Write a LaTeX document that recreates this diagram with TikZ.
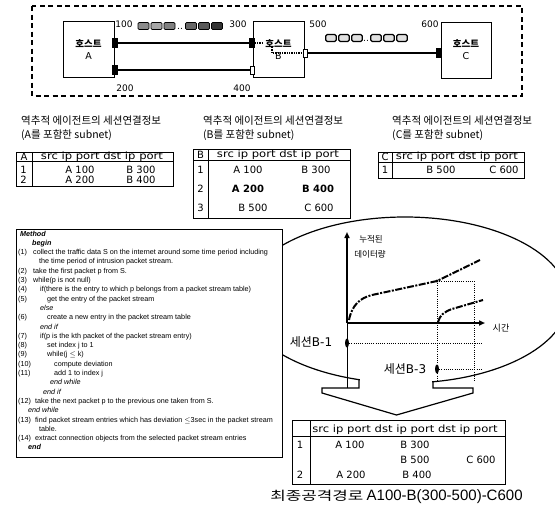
\documentclass[tikz,border=0pt]{standalone}
\usepackage{fontspec}
\usepackage{graphicx}
\setmainfont{DejaVu Sans}
\newfontfamily\kr{Noto Sans CJK KR}
\newfontfamily\codefont{Liberation Sans}
\usetikzlibrary{arrows.meta,shapes.geometric}
\newcommand\cln[5]{\node[code] (#1n) at (18,#2) {#3};\node[code] (#1) at (#4,#2) {#5};}
\newcommand\clx[4]{\node[code] (#1) at (#3,#2) {#4};}
\newcommand\hdr[1]{\scalebox{1.16}[1]{#1}}
\begin{document}
\begin{tikzpicture}[x=1pt,y=-1pt,
  host/.style={draw,line width=0.9pt,minimum width=51pt,minimum height=56pt,inner sep=0,align=center,font=\fontsize{9.5}{12}\selectfont},
  portb/.style={draw,fill=black,minimum width=5pt,minimum height=9pt,inner sep=0},
  portw/.style={draw,fill=white,line width=0.9pt,minimum width=4pt,minimum height=8pt,inner sep=0},
  link/.style={line width=2.2pt},
  num/.style={inner sep=0,font=\fontsize{9}{10}\selectfont},
  pkt/.style={draw,line width=0.7pt,rounded corners=1.2pt,minimum width=11pt,minimum height=7pt,inner sep=0},
  wpkt/.style={draw,line width=1.4pt,rounded corners=1.5pt,fill=black!12,minimum width=10.5pt,minimum height=7pt,inner sep=0},
  pdots/.style={inner sep=0,font=\fontsize{9}{9}\selectfont},
  tbl/.style={line width=0.9pt},
  cell/.style={inner sep=0,font=\fontsize{10}{11}\selectfont},
  ttl/.style={inner sep=0,anchor=base west,font=\kr\fontsize{10.5}{12}\selectfont},
  code/.style={inner sep=0,anchor=base west,font=\codefont\fontsize{7.2}{8}\selectfont},
  bdot/.style={line width=2pt,dash pattern=on 1.3pt off 1pt},
  dotln/.style={line width=0.7pt,dash pattern=on 1pt off 1.2pt},
  axis/.style={line width=1.8pt,-{Triangle[length=6pt,width=5pt]}},
  curve/.style={line width=2pt,dash pattern=on 7pt off 1.5pt on 2pt off 1.5pt},
  marker/.style={ellipse,fill=black,minimum width=4pt,minimum height=9pt,inner sep=0},
  lab/.style={inner sep=0,font=\fontsize{12}{13}\selectfont},
]
\useasboundingbox (0,0) rectangle (555,509);

% ---------- network ----------
\draw[line width=1.5pt,dash pattern=on 5pt off 3.5pt] (32,6) rectangle (522,96);
\node[host] (A) at (88.5,49.5) {{\kr\bfseries 호스트}\\A};
\node[host] (B) at (278.5,49.5) {{\kr\bfseries 호스트}\\B};
\node[host,minimum width=50pt] (C) at (466,50) {{\kr\bfseries 호스트}\\C};

\node[portb] (pa1) at (115,43) {};
\node[portb] (pa2) at (115,70) {};
\node[portb] (pb1) at (252,43) {};
\node[portw] (pb2) at (252,70) {};
\node[portw] (pb3) at (305,53) {};
\node[portb] (pc1) at (439,53) {};

\draw[link] (pa1) -- (pb1);
\draw[link] (pa2) -- (pb2);
\draw[link] (pb3) -- (pc1);
\coordinate (bd1) at (263,43);
\coordinate (bd2) at (272,47);
\coordinate (bd3) at (272,53);
\draw[bdot] (pb1) -- (bd1);
\draw[bdot] (bd2) -- (bd3) -- (pb3);

\node[num] (l100) at (124,24) {100};
\node[num] (l300) at (238,24) {300};
\node[num] (l500) at (318,24) {500};
\node[num] (l600) at (430,24) {600};
\node[num] (l200) at (125,88) {200};
\node[num] (l400) at (242,88) {400};

\node[pkt,fill=black!45] (k1) at (143.5,26) {};
\node[pkt,fill=black!35] (k2) at (156.5,26) {};
\node[pkt,fill=black!50] (k3) at (169.5,26) {};
\node[pdots] (kd) at (180,28.5) {..};
\node[pkt,fill=black!60] (k4) at (191,26) {};
\node[pkt,fill=black!65] (k5) at (204,26) {};
\node[pkt,fill=black!80] (k6) at (217,26) {};

\node[wpkt] (m1) at (331,38) {};
\node[wpkt] (m2) at (344,38) {};
\node[wpkt] (m3) at (357,38) {};
\node[pdots] (md) at (366,40.5) {..};
\node[wpkt] (m4) at (376,38) {};
\node[wpkt] (m5) at (389,38) {};
\node[wpkt] (m6) at (402,38) {};

% ---------- titles ----------
\node[ttl] (t1a) at (21,124) {역추적 에이전트의 세션연결정보};
\node[ttl] (t1b) at (21,138) {(A를 포함한 subnet)};
\node[ttl] (t2a) at (203,124) {역추적 에이전트의 세션연결정보};
\node[ttl] (t2b) at (203,138) {(B를 포함한 subnet)};
\node[ttl] (t3a) at (392,124) {역추적 에이전트의 세션연결정보};
\node[ttl] (t3b) at (392,138) {(C를 포함한 subnet)};

% ---------- table A ----------
\draw[tbl] (16,152) rectangle (173,186);
\draw[tbl] (16,161) -- (173,161);
\draw[tbl] (32,152) -- (32,186);
\node[cell] (ah) at (24,157) {A};
\node[cell] (ahh) at (102,157) {\hdr{src ip port dst ip port}};
\node[cell] (a1) at (23.5,170) {1};
\node[cell] (a2) at (23.5,180) {2};
\node[cell] (a11) at (80,170) {A 100};
\node[cell] (a12) at (141,170) {B 300};
\node[cell] (a21) at (80,180) {A 200};
\node[cell] (a22) at (141,180) {B 400};

% ---------- table B ----------
\draw[tbl] (193,149) rectangle (350,218);
\draw[tbl] (193,160) -- (350,160);
\draw[tbl] (208,149) -- (208,218);
\node[cell] (bh) at (200.5,155) {B};
\node[cell] (bhh) at (278,155) {\hdr{src ip port dst ip port}};
\node[cell] (b1) at (200.5,170) {1};
\node[cell] (b2) at (200.5,189) {2};
\node[cell] (b3) at (200.5,208) {3};
\node[cell] (b11) at (248,170) {A 100};
\node[cell] (b12) at (316,170) {B 300};
\node[cell] (b21) at (248,189) {\bfseries A 200};
\node[cell] (b22) at (318,189) {\bfseries B 400};
\node[cell] (b31) at (253,208) {B 500};
\node[cell] (b32) at (319,208) {C 600};

% ---------- table C ----------
\draw[tbl] (378,152) rectangle (524,178);
\draw[tbl] (378,162) -- (524,162);
\draw[tbl] (392,152) -- (392,178);
\node[cell] (ch) at (385,157) {C};
\node[cell] (chh) at (457,157) {\hdr{src ip port dst ip port}};
\node[cell] (c1r) at (385,170) {1};
\node[cell] (cc1) at (441,170) {B 500};
\node[cell] (cc2) at (504,170) {C 600};

% ---------- ellipse + arrow ----------
\draw[line width=1.2pt] (405,300) ellipse [x radius=163pt, y radius=83pt];
\fill[white] (359.6,370) rectangle (432.4,392);
\coordinate (s1) at (359,380);
\coordinate (s2) at (359,388);
\coordinate (s3) at (322,388);
\coordinate (s4) at (322,393);
\coordinate (ap) at (396.5,415);
\coordinate (s5) at (473,393);
\coordinate (s6) at (473,388);
\coordinate (s7) at (433,388);
\coordinate (s8) at (433,381);
\draw[line width=1.2pt,line join=miter] (s1) -- (s2) -- (s3) -- (s4) -- (ap) -- (s5) -- (s6) -- (s7) -- (s8);

% ---------- pseudocode box ----------
\draw[line width=1pt,fill=white] (16,229) rectangle (282,457);
\clx{cm}{236}{20}{\bfseries\itshape Method}
\clx{cb}{245.3}{32}{\bfseries\itshape begin}
\cln{c1}{254.6}{(1)}{33}{collect the traffic data S on the internet around some time period including}
\clx{c1b}{263.9}{39}{the time period of intrusion packet stream.}
\cln{c2}{273.2}{(2)}{33}{take the first packet p from S.}
\cln{c3}{282.5}{(3)}{33}{while(p is not null)}
\cln{c4}{291.8}{(4)}{40}{if(there is the entry to which p belongs from a packet stream table)}
\cln{c5}{301.1}{(5)}{47}{get the entry of the packet stream}
\clx{ce1}{310.4}{40}{\itshape else}
\cln{c6}{319.7}{(6)}{47}{create a new entry in the packet stream table}
\clx{ce2}{329}{40}{\itshape end if}
\cln{c7}{338.3}{(7)}{40}{if(p is the kth packet of the packet stream entry)}
\cln{c8}{347.6}{(8)}{47}{set index j to 1}
\cln{c9}{356.9}{(9)}{47}{while(j $\leq$ k)}
\cln{c10}{366.2}{(10)}{54}{compute deviation}
\cln{c11}{375.5}{(11)}{54}{add 1 to index j}
\clx{ce3}{384.8}{50}{\itshape end while}
\clx{ce4}{394.1}{43}{\itshape end if}
\cln{c12}{403.4}{(12)}{35}{take the next packet p to the previous one taken from S.}
\clx{ce5}{412.7}{28}{\itshape end while}
\cln{c13}{422}{(13)}{35}{find packet stream entries which has deviation $\leq$3sec in the packet stream}
\clx{c13b}{431.3}{39}{table.}
\cln{c14}{440.6}{(14)}{35}{extract connection objects from the selected packet stream entries}
\clx{cend}{449.9}{28}{\bfseries\itshape end}

% ---------- graph ----------
\coordinate (O) at (347,323);
\coordinate (Ytop) at (347,232);
\coordinate (Xend) at (485,323);
\coordinate (Ybot) at (347,388);
\draw[axis] (O) -- (Ytop);
\draw[axis] (O) -- (Xend);
\draw[line width=0.6pt] (O) -- (Ybot);
\node[inner sep=0,font=\kr\fontsize{8.5}{9}\selectfont] (yl1) at (371,239) {누적된};
\node[inner sep=0,font=\kr\fontsize{8.5}{9}\selectfont] (yl2) at (370,254) {데이터량};
\node[inner sep=0,font=\kr\fontsize{9}{9}\selectfont] (xl) at (501,328) {시간};

\coordinate (k0) at (437,281);
\coordinate (kr) at (474,281);
\coordinate (krb) at (474,382);
\coordinate (kb) at (437,382);
\draw[dotln] (k0) -- (kb);
\draw[dotln] (k0) -- (kr) -- (krb);
\draw[curve] (349,320) .. controls (352,305) and (360,298) .. (372,295) -- (k0) -- (480,260);
\draw[curve] (438,322) .. controls (440,315) and (444,312) .. (452,309) -- (483,300);
\fill (k0) circle (1.6pt);

\node[marker] (mk1) at (347,343) {};
\coordinate (e1) at (483,343);
\draw[dotln] (mk1) -- (e1);
\node[lab] (sb1) at (311,342) {{\kr 세션}B-1};
\node[marker] (mk3) at (437,369) {};
\coordinate (e3) at (483,369);
\draw[dotln] (mk3) -- (e3);
\node[lab] (sb3) at (405,369) {{\kr 세션}B-3};

% ---------- final table ----------
\draw[tbl] (292,420) rectangle (505,484);
\draw[tbl] (292,436) -- (505,436);
\draw[tbl] (310,420) -- (310,484);
\node[cell] (fh) at (405,430) {\hdr{src ip port dst ip port dst ip port}};
\node[cell] (f1) at (300,445) {1};
\node[cell] (f2) at (300,475) {2};
\node[cell] (f11) at (350,445) {A 100};
\node[cell] (f12) at (415,445) {B 300};
\node[cell] (f13) at (415,460) {B 500};
\node[cell] (f14) at (481,460) {C 600};
\node[cell] (f21) at (351,475) {A 200};
\node[cell] (f22) at (417,475) {B 400};

\node[inner sep=0] (cap) at (396.5,497) {\scalebox{1.35}[1]{\kr\fontsize{12.5}{14}\selectfont 최종공격경로} {\codefont\fontsize{15}{16}\selectfont A100-B(300-500)-C600}};
\end{tikzpicture}
\end{document}
